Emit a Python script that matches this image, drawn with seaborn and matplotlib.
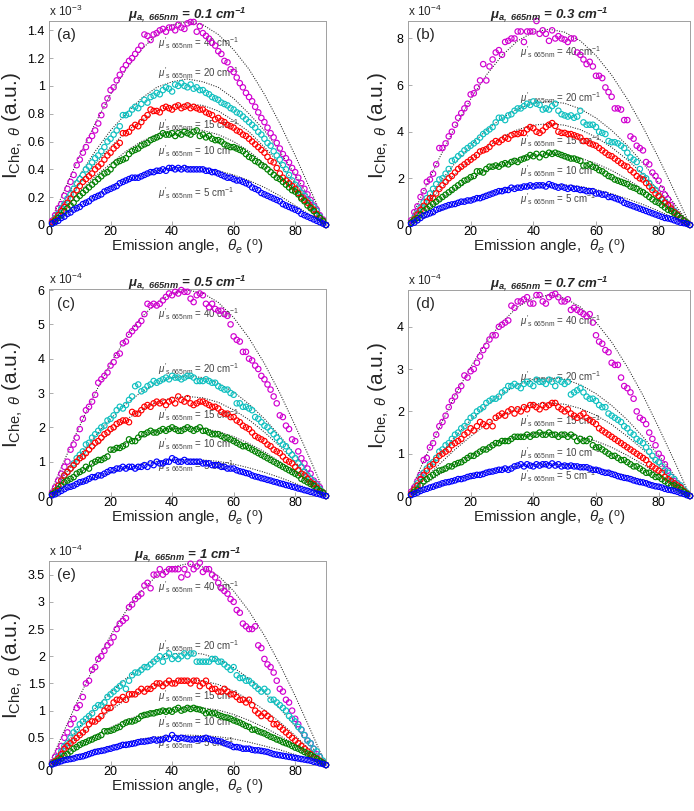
import seaborn as sns
import matplotlib.pyplot as plt
from matplotlib.ticker import FuncFormatter

# emission angles of the measured points and of the fitted curves
theta = list(range(1, 91))
fit_theta = list(range(0, 91, 5))

scatter_labels = ['40', '20', '15', '10', '5']
colors = ['#d000d0', '#10c0c0', '#ff0000', '#008000', '#0000ff']

# ---- panel (a), mu_a = 0.1 cm-1, values x 1e-3
a_40 = [0.03, 0.07, 0.12, 0.15, 0.21, 0.26, 0.31, 0.36, 0.43, 0.47,
        0.52, 0.56, 0.61, 0.64, 0.68, 0.73, 0.79, 0.86, 0.91, 0.97,
        0.99, 1.04, 1.08, 1.12, 1.15, 1.18, 1.20, 1.23, 1.26, 1.29,
        1.37, 1.36, 1.33, 1.37, 1.38, 1.40, 1.41, 1.39, 1.42, 1.42,
        1.40, 1.44, 1.42, 1.41, 1.45, 1.46, 1.46, 1.39, 1.43, 1.38,
        1.36, 1.34, 1.31, 1.29, 1.25, 1.23, 1.18, 1.17, 1.12, 1.10,
        1.06, 1.02, 0.99, 0.95, 0.92, 0.89, 0.85, 0.81, 0.77, 0.74,
        0.70, 0.66, 0.63, 0.59, 0.55, 0.51, 0.48, 0.45, 0.41, 0.38,
        0.34, 0.30, 0.26, 0.22, 0.18, 0.14, 0.11, 0.07, 0.04, 0.00]
a_20 = [0.02, 0.05, 0.08, 0.12, 0.15, 0.19, 0.22, 0.26, 0.30, 0.33,
        0.36, 0.40, 0.42, 0.45, 0.48, 0.50, 0.53, 0.56, 0.60, 0.62,
        0.65, 0.68, 0.71, 0.79, 0.79, 0.80, 0.83, 0.85, 0.84, 0.87,
        0.90, 0.88, 0.92, 0.93, 0.95, 0.94, 0.97, 0.99, 0.98, 0.96,
        1.01, 1.00, 1.02, 1.00, 0.99, 1.01, 0.98, 0.99, 0.97, 0.97,
        0.95, 0.94, 0.92, 0.91, 0.90, 0.88, 0.87, 0.86, 0.84, 0.83,
        0.81, 0.80, 0.78, 0.76, 0.74, 0.72, 0.70, 0.67, 0.65, 0.62,
        0.59, 0.57, 0.53, 0.50, 0.47, 0.43, 0.40, 0.36, 0.32, 0.29,
        0.26, 0.23, 0.21, 0.18, 0.16, 0.13, 0.10, 0.06, 0.03, 0.00]
a_15 = [0.02, 0.04, 0.07, 0.10, 0.13, 0.16, 0.19, 0.22, 0.25, 0.28,
        0.31, 0.33, 0.35, 0.37, 0.40, 0.42, 0.44, 0.47, 0.50, 0.52,
        0.55, 0.57, 0.59, 0.66, 0.66, 0.67, 0.70, 0.72, 0.71, 0.74,
        0.77, 0.79, 0.83, 0.82, 0.82, 0.81, 0.84, 0.85, 0.84, 0.83,
        0.85, 0.86, 0.84, 0.85, 0.86, 0.84, 0.85, 0.84, 0.83, 0.83,
        0.81, 0.80, 0.79, 0.76, 0.77, 0.75, 0.74, 0.72, 0.71, 0.70,
        0.68, 0.67, 0.65, 0.64, 0.62, 0.60, 0.58, 0.56, 0.54, 0.52,
        0.49, 0.46, 0.45, 0.41, 0.37, 0.34, 0.32, 0.30, 0.28, 0.26,
        0.23, 0.20, 0.18, 0.16, 0.13, 0.11, 0.08, 0.05, 0.03, 0.00]
a_10 = [0.01, 0.03, 0.05, 0.07, 0.10, 0.12, 0.14, 0.16, 0.19, 0.21,
        0.23, 0.25, 0.27, 0.29, 0.31, 0.33, 0.35, 0.37, 0.38, 0.40,
        0.43, 0.45, 0.46, 0.47, 0.48, 0.51, 0.53, 0.54, 0.55, 0.57,
        0.58, 0.59, 0.61, 0.62, 0.63, 0.64, 0.66, 0.65, 0.65, 0.66,
        0.64, 0.66, 0.65, 0.67, 0.66, 0.65, 0.67, 0.68, 0.64, 0.65,
        0.63, 0.64, 0.62, 0.61, 0.61, 0.60, 0.58, 0.57, 0.56, 0.56,
        0.55, 0.54, 0.53, 0.51, 0.49, 0.48, 0.46, 0.45, 0.43, 0.42,
        0.40, 0.38, 0.36, 0.34, 0.33, 0.31, 0.29, 0.27, 0.25, 0.24,
        0.22, 0.19, 0.17, 0.14, 0.12, 0.10, 0.07, 0.05, 0.03, 0.00]
a_5 = [0.01, 0.02, 0.03, 0.05, 0.06, 0.08, 0.09, 0.11, 0.12, 0.13,
       0.15, 0.16, 0.17, 0.19, 0.20, 0.21, 0.22, 0.24, 0.25, 0.26,
       0.27, 0.28, 0.30, 0.31, 0.32, 0.33, 0.34, 0.34, 0.34, 0.35,
       0.36, 0.37, 0.38, 0.38, 0.39, 0.39, 0.40, 0.39, 0.41, 0.41,
       0.40, 0.41, 0.40, 0.41, 0.40, 0.40, 0.40, 0.40, 0.40, 0.40,
       0.39, 0.39, 0.38, 0.38, 0.37, 0.36, 0.35, 0.34, 0.34, 0.33,
       0.32, 0.32, 0.31, 0.30, 0.29, 0.27, 0.26, 0.25, 0.23, 0.22,
       0.21, 0.20, 0.19, 0.18, 0.17, 0.15, 0.14, 0.13, 0.12, 0.11,
       0.10, 0.08, 0.07, 0.06, 0.05, 0.04, 0.03, 0.02, 0.01, 0.00]
fa_40 = [0, 0.25, 0.50, 0.73, 0.94, 1.12, 1.26, 1.37, 1.44, 1.46, 1.44, 1.37, 1.26, 1.12, 0.94, 0.73, 0.50, 0.25, 0]
fa_20 = [0, 0.18, 0.36, 0.53, 0.68, 0.80, 0.91, 0.99, 1.03, 1.05, 1.03, 0.99, 0.91, 0.80, 0.68, 0.53, 0.36, 0.18, 0]
fa_15 = [0, 0.15, 0.30, 0.44, 0.56, 0.67, 0.75, 0.82, 0.86, 0.87, 0.86, 0.82, 0.75, 0.67, 0.56, 0.44, 0.30, 0.15, 0]
fa_10 = [0, 0.12, 0.24, 0.35, 0.44, 0.53, 0.60, 0.65, 0.68, 0.69, 0.68, 0.65, 0.60, 0.53, 0.44, 0.35, 0.24, 0.12, 0]
fa_5 = [0, 0.07, 0.14, 0.21, 0.27, 0.32, 0.36, 0.39, 0.41, 0.42, 0.41, 0.39, 0.36, 0.32, 0.27, 0.21, 0.14, 0.07, 0]

# ---- panel (b), mu_a = 0.3 cm-1, values x 1e-4
b_40 = [0.20, 0.55, 0.80, 1.20, 1.45, 1.85, 1.95, 2.20, 2.60, 3.30,
        3.30, 3.50, 3.80, 4.00, 4.30, 4.60, 4.80, 5.00, 5.20, 5.60,
        5.65, 5.90, 6.20, 6.90, 6.20, 6.80, 7.10, 7.40, 7.50, 7.30,
        7.85, 7.90, 8.00, 8.00, 8.30, 8.30, 7.85, 8.30, 8.30, 8.30,
        8.75, 8.20, 8.35, 8.20, 7.90, 8.35, 8.00, 8.10, 8.00, 7.95,
        7.85, 8.00, 8.00, 7.40, 7.30, 7.10, 6.90, 7.00, 6.80, 6.40,
        6.40, 6.30, 5.90, 5.70, 5.50, 5.00, 5.00, 4.95, 4.50, 4.50,
        3.80, 3.70, 3.40, 3.30, 3.20, 2.70, 2.60, 2.25, 2.10, 1.90,
        1.55, 1.30, 1.10, 0.85, 0.60, 0.40, 0.25, 0.15, 0.08, 0.00]
b_20 = [0.10, 0.30, 0.50, 0.75, 0.97, 1.15, 1.35, 1.55, 1.75, 1.95,
        2.00, 2.20, 2.40, 2.75, 2.80, 2.95, 3.05, 3.20, 3.30, 3.40,
        3.50, 3.60, 3.75, 3.90, 4.00, 4.10, 4.20, 4.40, 4.60, 4.60,
        4.50, 4.70, 4.75, 4.90, 5.00, 5.00, 5.10, 5.20, 5.15, 5.30,
        5.20, 5.15, 4.95, 5.00, 4.95, 5.10, 5.20, 4.90, 4.75, 4.70,
        4.65, 4.70, 4.60, 4.65, 4.90, 4.40, 4.30, 4.30, 4.30, 4.20,
        4.00, 3.95, 3.90, 3.60, 3.55, 3.55, 3.50, 3.40, 3.30, 3.10,
        2.90, 2.80, 2.70, 2.40, 2.10, 2.00, 1.80, 1.60, 1.50, 1.20,
        1.10, 1.00, 0.85, 0.70, 0.60, 0.45, 0.30, 0.20, 0.10, 0.00]
b_15 = [0.10, 0.25, 0.45, 0.65, 0.82, 1.00, 1.15, 1.15, 1.35, 1.55,
        1.70, 1.85, 2.00, 2.10, 2.25, 2.40, 2.50, 2.60, 2.70, 2.80,
        2.90, 3.00, 3.15, 3.20, 3.25, 3.35, 3.50, 3.60, 3.55, 3.65,
        3.75, 3.70, 3.85, 3.90, 3.90, 3.95, 3.95, 4.10, 4.20, 4.15,
        4.00, 3.95, 4.05, 4.20, 4.30, 4.37, 4.25, 4.00, 3.95, 3.95,
        3.90, 3.90, 3.85, 3.80, 3.75, 3.60, 3.60, 3.50, 3.45, 3.40,
        3.30, 3.20, 3.10, 3.00, 2.95, 2.85, 2.75, 2.65, 2.55, 2.50,
        2.35, 2.25, 2.10, 2.00, 1.95, 1.80, 1.65, 1.50, 1.35, 1.25,
        1.10, 0.95, 0.85, 0.70, 0.55, 0.45, 0.30, 0.20, 0.10, 0.00]
b_10 = [0.10, 0.20, 0.30, 0.45, 0.60, 0.70, 0.80, 0.90, 1.00, 1.10,
        1.20, 1.30, 1.40, 1.50, 1.60, 1.70, 1.80, 1.90, 1.95, 2.05,
        2.10, 2.30, 2.30, 2.25, 2.40, 2.50, 2.50, 2.55, 2.50, 2.60,
        2.65, 2.60, 2.70, 2.75, 2.70, 2.80, 2.85, 2.90, 3.00, 2.95,
        3.05, 2.90, 3.05, 3.00, 3.10, 3.05, 3.10, 3.05, 3.00, 2.95,
        2.90, 2.85, 2.85, 2.80, 2.75, 2.55, 2.55, 2.60, 2.50, 2.45,
        2.35, 2.30, 2.20, 2.10, 2.05, 1.95, 1.90, 1.85, 1.80, 1.75,
        1.65, 1.60, 1.55, 1.45, 1.40, 1.30, 1.20, 1.10, 1.00, 0.95,
        0.85, 0.75, 0.65, 0.60, 0.50, 0.40, 0.30, 0.20, 0.10, 0.00]
b_5 = [0.05, 0.10, 0.20, 0.30, 0.40, 0.45, 0.50, 0.55, 0.65, 0.70,
       0.75, 0.80, 0.85, 0.88, 0.90, 0.95, 1.00, 1.00, 1.05, 1.05,
       1.10, 1.15, 1.15, 1.20, 1.25, 1.30, 1.35, 1.40, 1.45, 1.45,
       1.50, 1.50, 1.60, 1.55, 1.60, 1.60, 1.65, 1.65, 1.70, 1.65,
       1.70, 1.70, 1.70, 1.65, 1.75, 1.70, 1.65, 1.60, 1.65, 1.60,
       1.55, 1.60, 1.55, 1.55, 1.50, 1.50, 1.45, 1.45, 1.45, 1.35,
       1.35, 1.30, 1.30, 1.20, 1.20, 1.15, 1.10, 1.05, 0.95, 0.90,
       0.85, 0.80, 0.75, 0.70, 0.65, 0.60, 0.55, 0.50, 0.45, 0.40,
       0.35, 0.30, 0.28, 0.25, 0.20, 0.15, 0.10, 0.08, 0.05, 0.00]
fb_40 = [0, 1.46, 2.87, 4.20, 5.40, 6.43, 7.27, 7.90, 8.27, 8.40, 8.27, 7.90, 7.27, 6.43, 5.40, 4.20, 2.87, 1.46, 0]
fb_20 = [0, 0.92, 1.81, 2.65, 3.41, 4.06, 4.59, 4.98, 5.22, 5.30, 5.22, 4.98, 4.59, 4.06, 3.41, 2.65, 1.81, 0.92, 0]
fb_15 = [0, 0.76, 1.49, 2.18, 2.80, 3.33, 3.77, 4.09, 4.28, 4.35, 4.28, 4.09, 3.77, 3.33, 2.80, 2.18, 1.49, 0.76, 0]
fb_10 = [0, 0.53, 1.04, 1.53, 1.96, 2.34, 2.64, 2.87, 3.00, 3.05, 3.00, 2.87, 2.64, 2.34, 1.96, 1.53, 1.04, 0.53, 0]
fb_5 = [0, 0.30, 0.60, 0.88, 1.12, 1.34, 1.52, 1.65, 1.72, 1.75, 1.72, 1.65, 1.52, 1.34, 1.12, 0.88, 0.60, 0.30, 0]

# ---- panel (c), mu_a = 0.5 cm-1, values x 1e-4
c_40 = [0.10, 0.25, 0.45, 0.65, 0.85, 1.00, 1.35, 1.50, 1.70, 1.95,
        2.25, 2.50, 2.60, 2.75, 2.95, 3.30, 3.40, 3.50, 3.60, 3.80,
        3.90, 4.10, 4.15, 4.45, 4.50, 4.70, 4.80, 4.90, 5.00, 5.10,
        5.30, 5.60, 5.55, 5.60, 5.55, 5.60, 5.70, 5.80, 5.90, 5.85,
        5.95, 5.90, 6.00, 5.95, 5.95, 5.75, 5.65, 5.85, 5.90, 5.85,
        5.60, 5.50, 5.60, 5.45, 5.40, 5.40, 5.30, 5.25, 5.00, 4.65,
        4.55, 4.50, 4.20, 4.20, 4.00, 3.95, 3.80, 3.70, 3.50, 3.40,
        3.25, 3.10, 2.90, 2.70, 2.35, 2.30, 2.05, 1.95, 1.65, 1.60,
        1.30, 1.10, 0.95, 0.80, 0.65, 0.45, 0.35, 0.25, 0.10, 0.00]
c_20 = [0.05, 0.15, 0.30, 0.45, 0.60, 0.70, 0.80, 0.95, 1.10, 1.20,
        1.30, 1.50, 1.55, 1.70, 1.80, 1.90, 2.00, 2.05, 2.20, 2.25,
        2.35, 2.50, 2.60, 2.55, 2.65, 2.80, 2.90, 3.20, 3.25, 3.05,
        3.10, 3.20, 3.25, 3.35, 3.30, 3.35, 3.40, 3.45, 3.40, 3.50,
        3.45, 3.45, 3.40, 3.45, 3.50, 3.50, 3.45, 3.35, 3.35, 3.35,
        3.40, 3.35, 3.30, 3.30, 3.20, 3.15, 3.10, 3.10, 3.00, 2.95,
        2.70, 2.70, 2.60, 2.60, 2.55, 2.50, 2.30, 2.25, 2.15, 2.05,
        2.00, 1.90, 1.80, 1.70, 1.60, 1.50, 1.45, 1.30, 1.20, 1.10,
        0.95, 0.85, 0.70, 0.60, 0.50, 0.40, 0.30, 0.20, 0.10, 0.00]
c_15 = [0.05, 0.15, 0.30, 0.45, 0.60, 0.70, 0.80, 0.90, 1.00, 1.10,
        1.15, 1.25, 1.35, 1.45, 1.55, 1.60, 1.70, 1.80, 1.85, 1.95,
        2.00, 2.10, 2.15, 2.20, 2.20, 2.15, 2.45, 2.40, 2.40, 2.50,
        2.60, 2.65, 2.60, 2.70, 2.75, 2.70, 2.75, 2.65, 2.75, 2.80,
        2.70, 2.90, 2.80, 2.75, 2.85, 2.70, 2.65, 2.70, 2.75, 2.75,
        2.70, 2.65, 2.60, 2.60, 2.55, 2.45, 2.40, 2.40, 2.30, 2.30,
        2.20, 2.15, 2.05, 2.00, 1.95, 1.85, 1.75, 1.70, 1.65, 1.60,
        1.50, 1.45, 1.35, 1.30, 1.25, 1.15, 1.05, 1.00, 0.95, 0.85,
        0.75, 0.65, 0.60, 0.50, 0.40, 0.35, 0.25, 0.15, 0.10, 0.00]
c_10 = [0.05, 0.10, 0.20, 0.30, 0.40, 0.45, 0.50, 0.55, 0.65, 0.70,
        0.75, 0.85, 0.80, 0.95, 1.00, 1.05, 1.05, 1.10, 1.15, 1.35,
        1.35, 1.40, 1.40, 1.45, 1.50, 1.65, 1.60, 1.60, 1.70, 1.80,
        1.80, 1.85, 1.90, 1.85, 1.85, 1.90, 1.95, 1.90, 1.95, 2.00,
        1.95, 1.90, 1.90, 1.95, 2.00, 1.95, 1.90, 1.95, 2.00, 1.90,
        1.90, 1.85, 1.80, 1.80, 1.80, 1.75, 1.70, 1.70, 1.65, 1.60,
        1.55, 1.50, 1.45, 1.45, 1.40, 1.35, 1.30, 1.25, 1.20, 1.15,
        1.10, 1.05, 1.00, 0.95, 0.90, 0.85, 0.80, 0.75, 0.70, 0.65,
        0.60, 0.50, 0.45, 0.40, 0.35, 0.30, 0.20, 0.15, 0.10, 0.00]
c_5 = [0.02, 0.05, 0.10, 0.15, 0.20, 0.25, 0.27, 0.30, 0.35, 0.40,
       0.42, 0.45, 0.50, 0.55, 0.55, 0.60, 0.60, 0.65, 0.70, 0.75,
       0.75, 0.80, 0.80, 0.85, 0.80, 0.85, 0.85, 0.80, 0.85, 0.85,
       0.90, 0.85, 0.95, 0.90, 1.00, 0.95, 0.95, 1.00, 1.00, 1.10,
       1.05, 1.00, 1.00, 1.05, 1.00, 1.00, 1.00, 1.00, 1.00, 0.95,
       0.95, 0.95, 0.90, 0.90, 0.90, 0.85, 0.85, 0.80, 0.80, 0.80,
       0.75, 0.72, 0.70, 0.67, 0.65, 0.60, 0.57, 0.55, 0.52, 0.50,
       0.47, 0.45, 0.42, 0.40, 0.37, 0.35, 0.32, 0.30, 0.27, 0.25,
       0.22, 0.20, 0.17, 0.15, 0.12, 0.10, 0.07, 0.05, 0.02, 0.00]
fc_40 = [0, 1.04, 2.05, 3.00, 3.86, 4.60, 5.20, 5.64, 5.91, 6.00, 5.91, 5.64, 5.20, 4.60, 3.86, 3.00, 2.05, 1.04, 0]
fc_20 = [0, 0.61, 1.20, 1.75, 2.25, 2.68, 3.03, 3.29, 3.45, 3.50, 3.45, 3.29, 3.03, 2.68, 2.25, 1.75, 1.20, 0.61, 0]
fc_15 = [0, 0.50, 0.99, 1.45, 1.86, 2.22, 2.51, 2.73, 2.86, 2.90, 2.86, 2.73, 2.51, 2.22, 1.86, 1.45, 0.99, 0.50, 0]
fc_10 = [0, 0.35, 0.68, 1.00, 1.29, 1.53, 1.73, 1.88, 1.97, 2.00, 1.97, 1.88, 1.73, 1.53, 1.29, 1.00, 0.68, 0.35, 0]
fc_5 = [0, 0.19, 0.37, 0.54, 0.69, 0.82, 0.93, 1.01, 1.05, 1.07, 1.05, 1.01, 0.93, 0.82, 0.69, 0.54, 0.37, 0.19, 0]

# ---- panel (d), mu_a = 0.7 cm-1, values x 1e-4
d_40 = [0.10, 0.20, 0.35, 0.50, 0.85, 0.90, 1.15, 1.25, 1.45, 1.65,
        1.75, 1.90, 2.10, 2.25, 2.35, 2.50, 2.60, 2.85, 2.80, 2.95,
        3.00, 3.15, 3.30, 3.45, 3.55, 3.70, 3.80, 3.80, 4.00, 4.05,
        4.10, 4.15, 4.50, 4.45, 4.60, 4.60, 4.65, 4.70, 4.55, 4.55,
        4.75, 4.75, 4.60, 4.55, 4.70, 4.75, 4.78, 4.70, 4.60, 4.60,
        4.65, 4.40, 4.45, 4.40, 4.35, 4.30, 4.25, 4.30, 4.10, 3.80,
        3.65, 3.60, 3.45, 3.40, 3.15, 3.10, 3.10, 2.80, 2.60, 2.55,
        2.45, 2.30, 2.00, 1.85, 1.80, 1.70, 1.50, 1.35, 1.20, 1.00,
        0.90, 0.75, 0.60, 0.45, 0.35, 0.30, 0.20, 0.10, 0.05, 0.00]
d_20 = [0.05, 0.15, 0.30, 0.45, 0.55, 0.65, 0.75, 0.80, 0.90, 1.05,
        1.10, 1.20, 1.25, 1.35, 1.45, 1.50, 1.60, 1.65, 1.75, 1.85,
        1.90, 2.00, 2.05, 2.10, 2.20, 2.25, 2.30, 2.30, 2.35, 2.45,
        2.50, 2.60, 2.60, 2.65, 2.60, 2.55, 2.65, 2.70, 2.65, 2.60,
        2.75, 2.70, 2.70, 2.65, 2.75, 2.70, 2.60, 2.75, 2.70, 2.65,
        2.70, 2.40, 2.45, 2.50, 2.55, 2.45, 2.35, 2.30, 2.30, 2.25,
        2.15, 2.10, 2.10, 1.95, 1.90, 1.85, 1.80, 1.75, 1.65, 1.60,
        1.50, 1.45, 1.35, 1.30, 1.25, 1.15, 1.05, 0.95, 0.85, 0.80,
        0.70, 0.60, 0.55, 0.45, 0.40, 0.30, 0.25, 0.15, 0.08, 0.00]
d_15 = [0.05, 0.15, 0.25, 0.40, 0.50, 0.60, 0.70, 0.75, 0.85, 0.95,
        1.00, 1.05, 1.10, 1.20, 1.25, 1.30, 1.35, 1.45, 1.50, 1.60,
        1.55, 1.65, 1.75, 1.70, 1.65, 1.75, 1.65, 1.85, 1.90, 1.95,
        1.90, 2.00, 2.05, 1.95, 2.05, 2.00, 2.10, 2.05, 2.15, 2.15,
        2.10, 2.05, 2.15, 2.10, 2.15, 2.20, 2.20, 2.10, 2.05, 2.00,
        2.05, 1.95, 1.90, 1.85, 1.90, 1.95, 1.85, 1.80, 1.75, 1.70,
        1.60, 1.55, 1.50, 1.45, 1.40, 1.35, 1.30, 1.25, 1.20, 1.15,
        1.10, 1.05, 1.00, 0.95, 0.90, 0.85, 0.75, 0.70, 0.65, 0.60,
        0.55, 0.45, 0.40, 0.35, 0.30, 0.25, 0.20, 0.12, 0.06, 0.00]
d_10 = [0.03, 0.10, 0.15, 0.25, 0.35, 0.40, 0.45, 0.50, 0.55, 0.60,
        0.62, 0.65, 0.70, 0.70, 0.75, 0.78, 0.80, 0.85, 0.90, 0.95,
        0.95, 1.00, 1.05, 1.10, 1.10, 1.15, 1.20, 1.25, 1.25, 1.30,
        1.30, 1.30, 1.35, 1.40, 1.40, 1.40, 1.40, 1.45, 1.40, 1.45,
        1.45, 1.50, 1.45, 1.45, 1.50, 1.45, 1.45, 1.40, 1.45, 1.45,
        1.40, 1.45, 1.40, 1.30, 1.35, 1.30, 1.30, 1.35, 1.20, 1.15,
        1.15, 1.10, 1.05, 1.00, 0.95, 0.95, 0.90, 0.85, 0.85, 0.80,
        0.75, 0.70, 0.70, 0.65, 0.60, 0.55, 0.55, 0.50, 0.45, 0.45,
        0.40, 0.35, 0.30, 0.25, 0.25, 0.20, 0.15, 0.10, 0.05, 0.00]
d_5 = [0.02, 0.05, 0.08, 0.12, 0.15, 0.17, 0.20, 0.22, 0.25, 0.27,
       0.30, 0.32, 0.33, 0.35, 0.37, 0.40, 0.40, 0.42, 0.45, 0.47,
       0.48, 0.50, 0.50, 0.52, 0.55, 0.57, 0.58, 0.60, 0.62, 0.62,
       0.65, 0.62, 0.65, 0.70, 0.72, 0.75, 0.70, 0.75, 0.72, 0.70,
       0.75, 0.72, 0.75, 0.75, 0.72, 0.77, 0.72, 0.75, 0.70, 0.72,
       0.70, 0.72, 0.70, 0.70, 0.68, 0.68, 0.68, 0.65, 0.62, 0.62,
       0.60, 0.57, 0.55, 0.55, 0.52, 0.50, 0.47, 0.45, 0.43, 0.42,
       0.40, 0.37, 0.35, 0.33, 0.32, 0.30, 0.27, 0.25, 0.23, 0.22,
       0.20, 0.17, 0.15, 0.14, 0.12, 0.10, 0.07, 0.05, 0.02, 0.00]
fd_40 = [0, 0.83, 1.62, 2.38, 3.05, 3.64, 4.11, 4.47, 4.68, 4.75, 4.68, 4.47, 4.11, 3.64, 3.05, 2.38, 1.62, 0.83, 0]
fd_20 = [0, 0.49, 0.96, 1.40, 1.80, 2.14, 2.42, 2.63, 2.76, 2.80, 2.76, 2.63, 2.42, 2.14, 1.80, 1.40, 0.96, 0.49, 0]
fd_15 = [0, 0.38, 0.75, 1.10, 1.41, 1.69, 1.91, 2.07, 2.17, 2.20, 2.17, 2.07, 1.91, 1.69, 1.41, 1.10, 0.75, 0.38, 0]
fd_10 = [0, 0.26, 0.51, 0.75, 0.96, 1.15, 1.30, 1.41, 1.48, 1.50, 1.48, 1.41, 1.30, 1.15, 0.96, 0.75, 0.51, 0.26, 0]
fd_5 = [0, 0.13, 0.26, 0.38, 0.48, 0.57, 0.65, 0.70, 0.74, 0.75, 0.74, 0.70, 0.65, 0.57, 0.48, 0.38, 0.26, 0.13, 0]

# ---- panel (e), mu_a = 1 cm-1, values x 1e-4
e_40 = [0.05, 0.15, 0.25, 0.35, 0.50, 0.60, 0.75, 0.85, 1.05, 1.10,
        1.25, 1.50, 1.55, 1.75, 1.80, 1.95, 2.00, 2.10, 2.20, 2.25,
        2.35, 2.50, 2.60, 2.65, 2.70, 2.90, 2.95, 3.05, 3.10, 3.15,
        3.30, 3.35, 3.25, 3.50, 3.50, 3.60, 3.50, 3.55, 3.60, 3.60,
        3.60, 3.60, 3.45, 3.60, 3.50, 3.70, 3.60, 3.65, 3.72, 3.55,
        3.60, 3.60, 3.50, 3.45, 3.35, 3.25, 3.20, 3.15, 3.05, 3.00,
        2.85, 2.80, 2.60, 2.55, 2.50, 2.50, 2.55, 2.20, 2.15, 1.95,
        1.85, 1.80, 1.70, 1.55, 1.40, 1.35, 1.20, 1.15, 1.00, 0.85,
        0.75, 0.65, 0.55, 0.45, 0.40, 0.30, 0.20, 0.15, 0.05, 0.00]
e_20 = [0.03, 0.08, 0.15, 0.25, 0.35, 0.40, 0.50, 0.60, 0.65, 0.75,
        0.80, 0.85, 0.90, 0.95, 1.05, 1.10, 1.10, 1.15, 1.25, 1.30,
        1.35, 1.40, 1.45, 1.50, 1.40, 1.55, 1.65, 1.70, 1.70, 1.75,
        1.80, 1.80, 1.85, 1.90, 1.95, 2.00, 1.90, 2.00, 2.05, 1.95,
        2.00, 1.95, 2.00, 2.05, 2.00, 2.05, 2.05, 1.90, 1.90, 1.90,
        1.90, 1.90, 1.95, 1.95, 1.90, 1.90, 1.85, 1.80, 1.75, 1.80,
        1.65, 1.60, 1.60, 1.55, 1.55, 1.50, 1.45, 1.40, 1.35, 1.40,
        1.35, 1.20, 1.20, 1.15, 1.10, 1.05, 1.00, 0.90, 0.85, 0.80,
        0.70, 0.65, 0.55, 0.45, 0.40, 0.30, 0.25, 0.15, 0.08, 0.00]
e_15 = [0.02, 0.07, 0.12, 0.20, 0.30, 0.35, 0.40, 0.45, 0.50, 0.55,
        0.60, 0.65, 0.75, 0.80, 0.80, 0.85, 0.90, 1.00, 1.05, 1.05,
        1.15, 1.20, 1.20, 1.25, 1.20, 1.30, 1.30, 1.30, 1.35, 1.40,
        1.35, 1.40, 1.40, 1.45, 1.50, 1.50, 1.45, 1.50, 1.55, 1.50,
        1.50, 1.55, 1.55, 1.55, 1.55, 1.50, 1.55, 1.55, 1.45, 1.50,
        1.55, 1.45, 1.40, 1.40, 1.35, 1.35, 1.40, 1.35, 1.30, 1.30,
        1.25, 1.20, 1.20, 1.15, 1.20, 1.10, 1.00, 0.95, 0.90, 0.95,
        0.90, 0.85, 0.75, 0.75, 0.70, 0.65, 0.60, 0.55, 0.50, 0.45,
        0.40, 0.35, 0.30, 0.25, 0.20, 0.15, 0.12, 0.08, 0.04, 0.00]
e_10 = [0.02, 0.05, 0.08, 0.12, 0.17, 0.20, 0.25, 0.30, 0.33, 0.37,
        0.40, 0.42, 0.45, 0.47, 0.50, 0.52, 0.55, 0.62, 0.62, 0.63,
        0.65, 0.68, 0.70, 0.75, 0.78, 0.80, 0.80, 0.82, 0.85, 0.90,
        0.92, 0.93, 0.95, 0.95, 0.97, 0.98, 1.00, 0.98, 1.00, 0.98,
        1.02, 1.05, 1.00, 1.02, 1.05, 1.03, 1.05, 1.03, 1.02, 1.00,
        0.95, 0.97, 0.95, 0.95, 0.92, 0.90, 0.88, 0.87, 0.85, 0.82,
        0.80, 0.78, 0.75, 0.72, 0.70, 0.65, 0.65, 0.62, 0.60, 0.58,
        0.55, 0.52, 0.50, 0.47, 0.45, 0.42, 0.40, 0.38, 0.35, 0.32,
        0.30, 0.27, 0.24, 0.21, 0.18, 0.15, 0.11, 0.07, 0.04, 0.00]
e_5 = [0.01, 0.03, 0.05, 0.07, 0.09, 0.10, 0.11, 0.12, 0.14, 0.15,
       0.16, 0.18, 0.20, 0.22, 0.24, 0.25, 0.26, 0.27, 0.29, 0.30,
       0.32, 0.33, 0.35, 0.37, 0.37, 0.38, 0.39, 0.40, 0.42, 0.43,
       0.43, 0.44, 0.45, 0.47, 0.45, 0.46, 0.47, 0.50, 0.48, 0.55,
       0.50, 0.48, 0.50, 0.49, 0.48, 0.47, 0.47, 0.48, 0.47, 0.48,
       0.50, 0.48, 0.46, 0.45, 0.44, 0.43, 0.40, 0.38, 0.36, 0.33,
       0.33, 0.32, 0.30, 0.30, 0.30, 0.28, 0.27, 0.27, 0.26, 0.25,
       0.24, 0.22, 0.20, 0.19, 0.18, 0.17, 0.16, 0.15, 0.14, 0.13,
       0.12, 0.11, 0.10, 0.09, 0.08, 0.06, 0.05, 0.03, 0.02, 0.00]
fe_40 = [0, 0.64, 1.27, 1.85, 2.38, 2.83, 3.20, 3.48, 3.64, 3.70, 3.64, 3.48, 3.20, 2.83, 2.38, 1.85, 1.27, 0.64, 0]
fe_20 = [0, 0.36, 0.71, 1.04, 1.33, 1.59, 1.79, 1.95, 2.04, 2.07, 2.04, 1.95, 1.79, 1.59, 1.33, 1.04, 0.71, 0.36, 0]
fe_15 = [0, 0.27, 0.54, 0.79, 1.01, 1.20, 1.36, 1.48, 1.55, 1.57, 1.55, 1.48, 1.36, 1.20, 1.01, 0.79, 0.54, 0.27, 0]
fe_10 = [0, 0.19, 0.37, 0.54, 0.69, 0.82, 0.93, 1.01, 1.05, 1.07, 1.05, 1.01, 0.93, 0.82, 0.69, 0.54, 0.37, 0.19, 0]
fe_5 = [0, 0.10, 0.19, 0.28, 0.35, 0.42, 0.48, 0.52, 0.54, 0.55, 0.54, 0.52, 0.48, 0.42, 0.35, 0.28, 0.19, 0.10, 0]

mu_a = ['0.1', '0.3', '0.5', '0.7', '1']
exponents = ['-3', '-4', '-4', '-4', '-4']

sns.set_style("white")
plt.rcParams['font.family'] = ['Liberation Sans', 'DejaVu Sans']
plt.rcParams['mathtext.fontset'] = 'custom'
plt.rcParams['mathtext.rm'] = 'Liberation Sans'
plt.rcParams['mathtext.it'] = 'Liberation Sans:italic'
plt.rcParams['mathtext.bf'] = 'Liberation Sans:bold'
plt.rcParams['mathtext.bfit'] = 'Liberation Sans:italic:bold'


def draw_panel(ax, letter, mua, expo, series, fits, ytop, ystep, label_x, label_y, ylab_x):
    for vals, fit, col in zip(series, fits, colors):
        sns.lineplot(x=fit_theta, y=fit, ax=ax, color='#222222', linestyle=(0, (1, 1.4)),
                     linewidth=0.75, zorder=2)
        sns.scatterplot(x=theta, y=vals, ax=ax, marker='o', s=15, facecolors='none',
                        edgecolor=col, linewidth=0.85, clip_on=False, zorder=3)

    for lab, ly in zip(scatter_labels, label_y):
        ax.text(label_x, ly, r"$\mu'_{\mathrm{s\ 665nm}}$ = " + lab + r" cm$^{-1}$",
                fontsize=7, color='#444444', va='center', ha='left', zorder=1)

    ax.set_xlim(0, 90)
    ax.set_ylim(0, ytop)
    ax.set_xticks([0, 20, 40, 60, 80])
    yt = []
    v = 0.0
    while v <= ytop + 1e-9:
        yt.append(round(v, 3))
        v += ystep
    ax.set_yticks(yt)
    ax.yaxis.set_major_formatter(FuncFormatter(lambda t, p: '%g' % t))

    for sp in ax.spines.values():
        sp.set_visible(True)
        sp.set_color('#a0a0a0')
        sp.set_linewidth(0.7)
    ax.tick_params(direction='in', length=3, width=0.6, color='#a0a0a0',
                   labelsize=9, labelcolor='black', top=False, right=False,
                   bottom=True, left=True)
    ax.tick_params(axis='x', pad=1)
    ax.tick_params(axis='y', pad=3)

    ax.set_xlabel(r"Emission angle,  $\theta_e$ ($^{\mathrm{o}}$)", fontsize=11)
    ax.xaxis.set_label_coords(0.5, -0.062)
    ax.xaxis.label.set_va('top')
    ax.set_ylabel(r"I$_{\mathrm{Che,}\ \theta}$ (a.u.)", fontsize=15)
    ax.yaxis.set_label_coords(ylab_x, 0.49)

    ax.set_title(r"$\mathbfit{\mu}_{\mathbfit{a,\ 665nm}}$ = " + mua + r" cm$^{\mathbfit{-1}}$",
                 fontsize=9.5, fontstyle='italic', fontweight='bold', pad=2)
    ax.text(0, 1.012, r"x 10$^{" + expo + "}$", transform=ax.transAxes,
            fontsize=8.5, ha='left', va='bottom')
    ax.text(0.03, 0.93, letter, transform=ax.transAxes, fontsize=11,
            ha='left', va='center')


fig = plt.figure(figsize=(6.94, 8.11), dpi=100)

panels = [
    ("(a)", [a_40, a_20, a_15, a_10, a_5], [fa_40, fa_20, fa_15, fa_10, fa_5],
     1.467, 0.2, 35.4, [1.31, 1.09, 0.72, 0.53, 0.23], [0.0706, 0.7226, 0.3991, 0.2515], -0.085),
    ("(b)", [b_40, b_20, b_15, b_10, b_5], [fb_40, fb_20, fb_15, fb_10, fb_5],
     8.75, 2, 35.6, [7.43, 5.44, 3.60, 2.30, 1.10], [0.5879, 0.7226, 0.4063, 0.2515], -0.06),
    ("(c)", [c_40, c_20, c_15, c_10, c_5], [fc_40, fc_20, fc_15, fc_10, fc_5],
     6.03, 1, 35.4, [5.29, 3.70, 2.37, 1.52, 0.88], [0.0706, 0.3884, 0.3991, 0.2552], -0.085),
    ("(d)", [d_40, d_20, d_15, d_10, d_5], [fd_40, fd_20, fd_15, fd_10, fd_5],
     4.87, 1, 35.6, [4.13, 2.81, 1.76, 1.01, 0.46], [0.5879, 0.3884, 0.4063, 0.2540], -0.06),
    ("(e)", [e_40, e_20, e_15, e_10, e_5], [fe_40, fe_20, fe_15, fe_10, fe_5],
     3.75, 0.5, 35.4, [3.27, 2.19, 1.26, 0.79, 0.40], [0.0706, 0.0567, 0.3991, 0.2515], -0.085),
]

for i, (letter, series, fits, ytop, ystep, lx, ly, rect, ylx) in enumerate(panels):
    ax = fig.add_axes(rect)
    draw_panel(ax, letter, mu_a[i], exponents[i], series, fits, ytop, ystep, lx, ly, ylx)

fig.savefig('out.png', dpi=100)
